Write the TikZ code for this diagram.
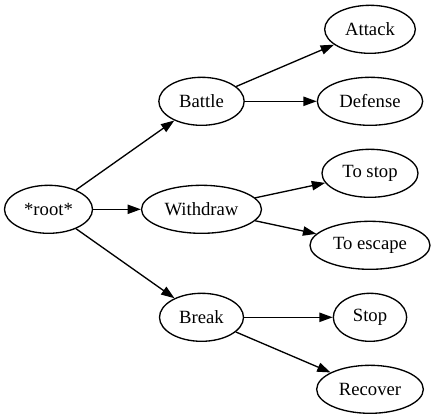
\documentclass[tikz,border=0pt]{standalone}
\usepackage{fontspec}
\newfontfamily\gvfont{Liberation Serif}
\usetikzlibrary{arrows.meta,shapes.geometric}
\tikzset{
	choice/.style={
			ellipse, draw, line width=1pt, inner sep=0pt,
			minimum height=36pt,
			font=\gvfont\fontsize{14pt}{16pt}\selectfont
		},
	link/.style={
			line width=1pt,
			-{Triangle[length=10pt,width=7pt]}
		}
}

\begin{document}
\begin{tikzpicture}[x=0.75pt,y=-0.75pt]

			\useasboundingbox (0,0) rectangle (436,419);

			% Draw the root
			\node[choice, minimum width=66pt] (root) at (48.5,209.3) {*root*};

			% Draw the first level
			\node[choice, minimum width=64pt] (battle) at (201.5,101.3) {Battle};
			\node[choice, minimum width=90pt] (withdraw) at (201.5,209.3) {Withdraw};
			\node[choice, minimum width=63pt] (break) at (201.5,317.3) {Break};

			% Draw the leaves
			\node[choice, minimum width=68pt] (attack) at (370,29.3) {Attack};
			\node[choice, minimum width=79pt] (defense) at (370,101.3) {Defense};
			\node[choice, minimum width=72pt] (tostop) at (370,173.3) {To stop};
			\node[choice, minimum width=90pt] (toescape) at (370,245.3) {To escape};
			\node[choice, minimum width=55pt] (stop) at (370,317.3) {Stop};
			\node[choice, minimum width=80pt] (recover) at (370,389.3) {Recover};

			% Draw the edges
			\draw[link] (root) -- (battle);
			\draw[link] (root) -- (withdraw);
			\draw[link] (root) -- (break);
			\draw[link] (battle) -- (attack);
			\draw[link] (battle) -- (defense);
			\draw[link] (withdraw) -- (tostop);
			\draw[link] (withdraw) -- (toescape);
			\draw[link] (break) -- (stop);
			\draw[link] (break) -- (recover);

		\end{tikzpicture}
\end{document}
